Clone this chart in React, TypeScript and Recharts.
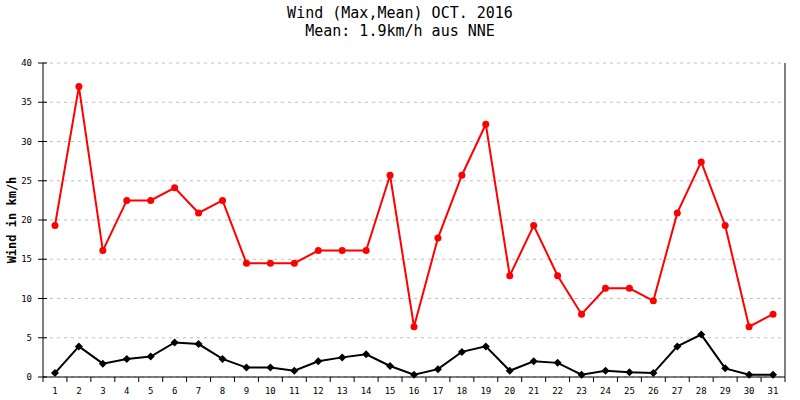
import React from 'react'
import { LineChart, Line, XAxis, YAxis, CartesianGrid } from 'recharts'

// daily values (km/h)
const days = Array.from({ length: 31 }, (_, i) => String(i + 1))
const maxWind = [19.3, 37.0, 16.1, 22.5, 22.5, 24.1, 20.9, 22.5, 14.5, 14.5, 14.5, 16.1, 16.1, 16.1, 25.7, 6.4,
  17.7, 25.7, 32.2, 12.9, 19.3, 12.9, 8.0, 11.3, 11.3, 9.7, 20.9, 27.4, 19.3, 6.4, 8.0]
const meanWind = [0.5, 3.9, 1.7, 2.3, 2.6, 4.4, 4.2, 2.3, 1.2, 1.2, 0.8, 2.0, 2.5, 2.9, 1.4, 0.3,
  1.0, 3.2, 3.9, 0.8, 2.0, 1.8, 0.3, 0.8, 0.6, 0.5, 3.9, 5.4, 1.1, 0.3, 0.3]
const yTicks = [0, 5, 10, 15, 20, 25, 30, 35, 40]

const data = days.map((d, i) => ({ day: d, max: maxWind[i], mean: meanWind[i] }))

const FONT = '"DejaVu Sans Mono", "Liberation Mono", monospace'
const AXIS_X = 43
const AXIS_Y = 377
const BAND = 742 / 31

const XTick = (props: any) => {
  const { x, payload, index } = props
  return (
    <g>
      <line x1={x - BAND / 2} y1={AXIS_Y} x2={x - BAND / 2} y2={AXIS_Y + 5} stroke="#000" />
      {index === 30 && <line x1={x + BAND / 2} y1={AXIS_Y} x2={x + BAND / 2} y2={AXIS_Y + 5} stroke="#000" />}
      <text x={x} y={AXIS_Y + 17} textAnchor="middle" fontSize={9} fontFamily={FONT} fill="#000">
        {payload.value}
      </text>
    </g>
  )
}

const YTick = (props: any) => {
  const { y, payload } = props
  return (
    <g>
      <line x1={AXIS_X - 5} y1={y} x2={AXIS_X + 4} y2={y} stroke="#000" />
      <text x={AXIS_X - 11} y={y + 3} textAnchor="end" fontSize={9} fontFamily={FONT} fill="#000">
        {payload.value}
      </text>
    </g>
  )
}

const RedDot = (props: any) => {
  const { cx, cy } = props
  return <circle cx={cx} cy={cy} r={3.5} fill="#ff0000" />
}

const Diamond = (props: any) => {
  const { cx, cy } = props
  return <polygon points={`${cx},${cy - 4} ${cx + 4},${cy} ${cx},${cy + 4} ${cx - 4},${cy}`} fill="#000" />
}

export default function App() {
  return (
    <div style={{ position: 'absolute', left: 0, top: 0, width: 800, height: 400, background: '#fff', fontFamily: FONT }}>
      <div style={{ position: 'absolute', top: 4, width: 800, textAlign: 'center', fontSize: 15, lineHeight: '18px' }}>
        <div>Wind (Max,Mean) OCT. 2016</div>
        <div>Mean: 1.9km/h aus NNE</div>
      </div>
      <div style={{ position: 'absolute', left: 12, top: 220, width: 0, height: 0 }}>
        <div style={{
          position: 'absolute', transform: 'translate(-50%, -50%) rotate(-90deg)', whiteSpace: 'nowrap',
          fontSize: 12, fontWeight: 'bold', left: 0, top: 0,
        }}>Wind in km/h</div>
      </div>
      <div style={{ position: 'absolute', left: 0, top: 0 }}>
        <LineChart width={800} height={400} data={data} margin={{ top: 63, right: 14, bottom: 3, left: 13 }}>
          <CartesianGrid horizontal vertical={false} stroke="#c0c0c0" strokeDasharray="3 4" />
          <XAxis dataKey="day" interval={0} axisLine={{ stroke: '#000' }} tickLine={false} height={20}
            tick={<XTick />} padding={{ left: BAND / 2, right: BAND / 2 }} />
          <YAxis domain={[0, 40]} ticks={yTicks} width={30} axisLine={{ stroke: '#000' }} tickLine={false}
            tick={<YTick />} />
          <YAxis yAxisId="r" orientation="right" domain={[0, 40]} width={1} tick={false} tickLine={false}
            axisLine={{ stroke: '#000' }} />
          <Line dataKey="max" stroke="#ff0000" strokeWidth={2} dot={<RedDot />} isAnimationActive={false} />
          <Line dataKey="mean" stroke="#000" strokeWidth={2} dot={<Diamond />} isAnimationActive={false} />
        </LineChart>
      </div>
    </div>
  )
}
